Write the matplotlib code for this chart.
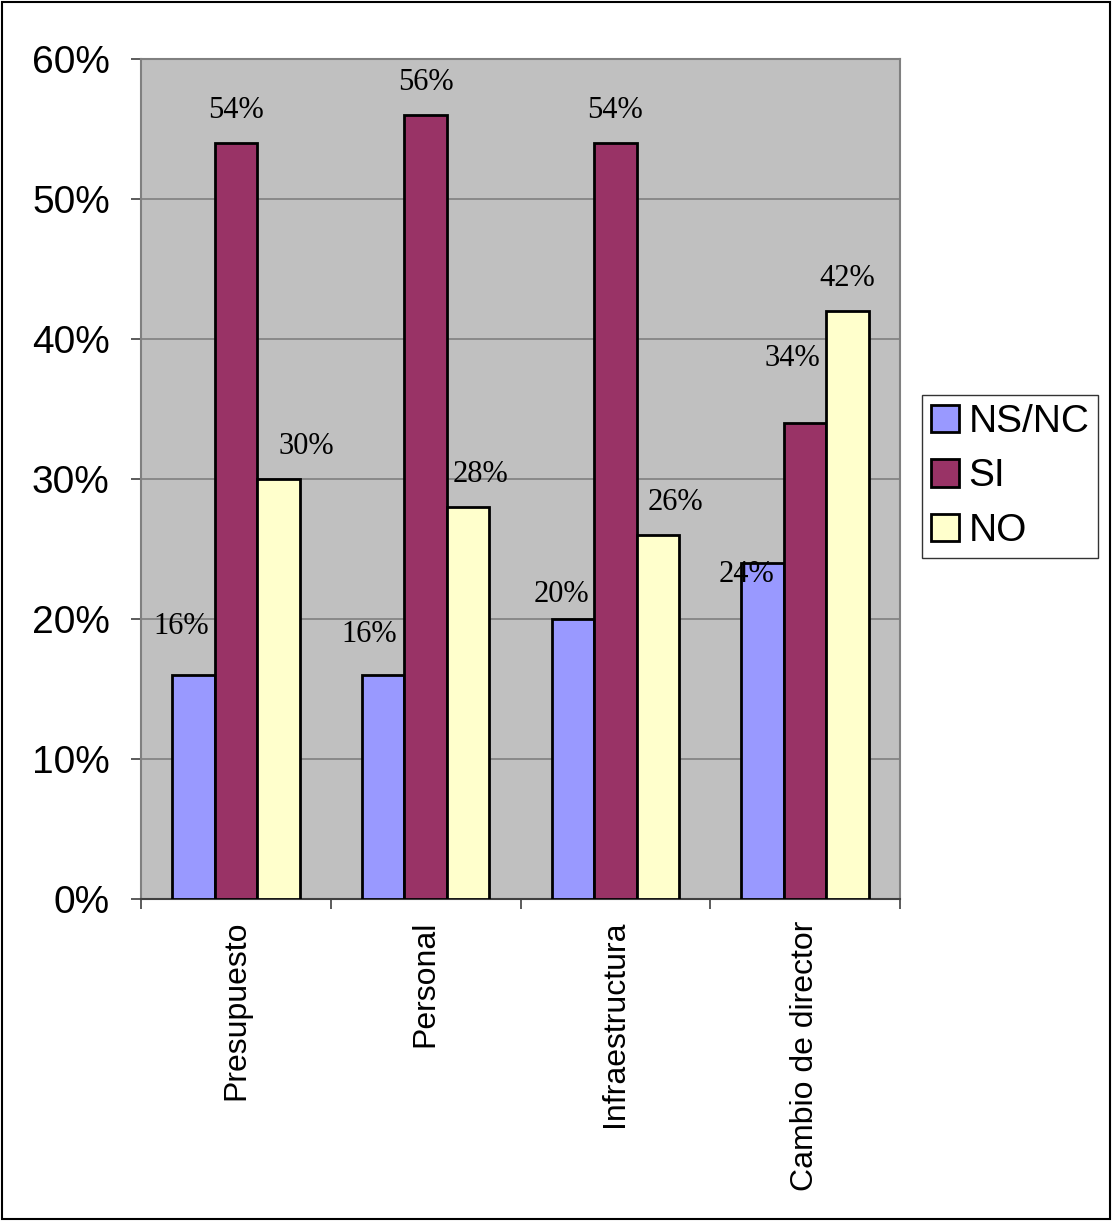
import matplotlib
matplotlib.use("Agg")
import matplotlib.pyplot as plt
from matplotlib.patches import Rectangle
import numpy as np

categories = ["Presupuesto", "Personal", "Infraestructura", "Cambio de director"]
series_names = ["NS/NC", "SI", "NO"]
ns_nc = [16, 16, 20, 24]
si = [54, 56, 54, 34]
no = [30, 28, 26, 42]
y_ticks = [0, 10, 20, 30, 40, 50, 60]

colors = ["#9999FF", "#993366", "#FFFFCC"]

# label offsets (pixels) relative to the top-centre of each bar
label_dx = [[-12, 0, 28], [-14, 0, 12], [-11, 0, 18], [-16, -13, 0]]
label_dy = [[48, 33, 33], [41, 33, 33], [25, 33, 33], [-12, 64, 33]]

W, H, DPI = 1112, 1221, 100
fig = plt.figure(figsize=(W / DPI, H / DPI), dpi=DPI)
ax = fig.add_axes([141 / W, 1 - 899 / H, (900 - 141) / W, (899 - 59) / H])
ax.set_facecolor("#C0C0C0")

x = np.arange(len(categories))
bw = 0.224
series = [ns_nc, si, no]
for k, (vals, name, col) in enumerate(zip(series, series_names, colors)):
    pos = x + (k - 1) * bw
    ax.bar(pos, vals, width=bw, color=col, edgecolor="black", linewidth=2,
           label=name, zorder=3)
    for i, (p, v) in enumerate(zip(pos, vals)):
        ax.annotate(f"{v}%", (p, v), xytext=(label_dx[i][k], label_dy[i][k]),
                    textcoords="offset pixels", ha="center", va="center",
                    fontsize=22, family="Liberation Serif", zorder=5)

ax.set_xlim(-0.5, len(categories) - 0.5)
ax.set_ylim(0, 60)
ax.set_yticks(y_ticks)
ax.set_yticklabels([f"{t}%" for t in y_ticks], fontsize=28, family="Liberation Sans")
ax.yaxis.grid(True, color="#808080", linewidth=1.2, zorder=1)
ax.set_axisbelow(True)

ax.set_xticks(np.arange(len(categories) + 1) - 0.5)
ax.set_xticklabels([])
ax.set_xticks(x, minor=True)
ax.set_xticklabels(categories, minor=True, rotation=90, fontsize=23,
                   family="Liberation Sans", va="top", ha="center")
ax.tick_params(axis="x", which="minor", length=0, pad=15.5)
ax.tick_params(axis="x", which="major", length=7.5, width=1.2, color="#404040")
ax.tick_params(axis="y", length=7.5, width=1.2, color="#404040", pad=15)

for s in ["top", "right", "left"]:
    ax.spines[s].set_color("#808080")
    ax.spines[s].set_linewidth(1.5)
ax.spines["bottom"].set_color("#404040")
ax.spines["bottom"].set_linewidth(1.5)

leg = fig.legend(loc="center left", bbox_to_anchor=(922 / W, 1 - 476.5 / H),
                 prop={"family": "Liberation Sans", "size": 28},
                 frameon=True, fancybox=False, edgecolor="black",
                 handlelength=0.7, handleheight=0.7, handletextpad=0.25,
                 labelspacing=0.47, borderpad=0.24, borderaxespad=0)
leg.get_frame().set_linewidth(1)

fig.patches.append(Rectangle((2 / W, 2 / H), 1 - 4 / W, 1 - 4 / H,
                             transform=fig.transFigure, fill=False,
                             edgecolor="black", linewidth=1.5))

fig.savefig("out.png", dpi=DPI, facecolor="white")
